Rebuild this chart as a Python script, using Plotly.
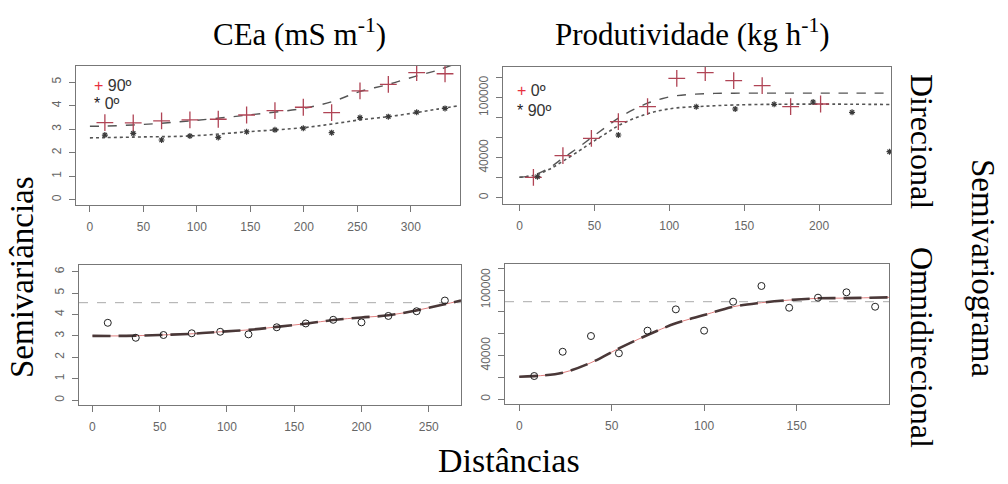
import plotly.graph_objects as go

# ---------------- data ----------------
# Top-left: CEa directional
cea_dist = [14, 40.5, 67, 93.5, 120, 146.5, 173, 199.5, 226, 252.5, 279, 305.5, 332]
cea_90 = [3.28, 3.27, 3.35, 3.39, 3.42, 3.60, 3.79, 3.93, 3.70, 4.62, 4.90, 5.40, 5.35]
cea_0 = [2.75, 2.82, 2.54, 2.71, 2.65, 2.89, 2.97, 3.04, 2.85, 3.49, 3.53, 3.72, 3.88]
cea_fit_x = [0, 14, 50, 93.5, 148, 199, 226.5, 252, 279, 305, 325, 346]
cea_fit_90 = [3.12, 3.13, 3.20, 3.35, 3.60, 3.88, 4.17, 4.59, 4.90, 5.25, 5.50, 5.85]
cea_fit_0 = [2.63, 2.64, 2.67, 2.71, 2.89, 3.06, 3.22, 3.39, 3.53, 3.70, 3.85, 4.00]

# Top-right: Produtividade directional
prod_dist_0 = [9.3, 29, 48, 66, 85.5, 105, 124, 143, 162, 181, 201]
prod_0 = [20400, 42000, 59400, 76000, 91000, 119400, 125000, 117000, 112000, 91000, 93700]
prod_dist_90 = [12, 66, 118, 144, 170, 196, 222, 247]
prod_90 = [21000, 62700, 91000, 88700, 93400, 95700, 85400, 46000]
prod_fit_x = [0, 10, 20, 29, 40, 48, 58, 66, 76, 85.5, 95, 105, 124, 143, 170, 200, 248]
prod_fit_0 = [20400, 23000, 30000, 39500, 51000, 60000, 71000, 79500, 88000, 94500, 99000,
              102000, 104000, 104500, 104600, 104600, 104600]
prod_fit_90 = [20400, 22500, 28500, 36500, 47000, 55000, 64500, 72000, 79000, 84000, 87500,
               89800, 91500, 92700, 93400, 93600, 93200]

# Bottom-left: CEa omnidirectional
cea_om_dist = [11.4, 32.2, 52.8, 73.8, 95, 116, 137, 158.6, 179, 200, 220, 241, 262]
cea_om = [3.61, 2.91, 3.04, 3.12, 3.19, 3.07, 3.40, 3.58, 3.75, 3.63, 3.93, 4.15, 4.65]
cea_om_fit_x = [0, 25, 50, 75, 95, 120, 137, 160, 179, 200, 220, 240, 260, 274]
cea_om_fit = [3.00, 3.00, 3.04, 3.10, 3.19, 3.30, 3.42, 3.58, 3.74, 3.86, 3.96, 4.18, 4.45, 4.65]
cea_om_sill = 4.55

# Bottom-right: Produtividade omnidirectional
prod_om_dist = [8.1, 23.5, 38.8, 53.9, 69.4, 84.7, 100, 115.7, 131, 146, 161.6, 177, 192.5]
prod_om = [21300, 43500, 57900, 42100, 62800, 82300, 62800, 89300, 103700, 83800, 93000, 97900, 84700]
prod_om_fit_x = [0, 8, 23.5, 38.8, 53.9, 69.4, 84.7, 100, 115.7, 131, 146, 161.6, 177, 200]
prod_om_fit = [20700, 21200, 24300, 33500, 46600, 58800, 69500, 77100, 84700, 88400, 90800,
               92400, 92600, 93300]
prod_om_sill = 89300

# tick labels
cea_x_ticks = [0, 50, 100, 150, 200, 250, 300]
cea_y_ticks = [0, 1, 2, 3, 4, 5]
cea_om_x_ticks = [0, 50, 100, 150, 200, 250]
cea_om_y_ticks = [0, 1, 2, 3, 4, 5, 6]
prod_x_ticks = [0, 50, 100, 150, 200]
prod_om_x_ticks = [0, 50, 100, 150]
prod_y_ticks = [0, 40000, 100000]
prod_y_text = ["0", "40000", "100000"]
prod_y_minor_step = 20000

# ---------------- styling ----------------
W, H = 1008, 484
PLUS_C = "#b04455"
DARK = "#3a3a3a"
LINE_C = "#555555"
AX_C = "#777777"
TICK_FONT = dict(family="Liberation Sans, Arial", size=12, color="#666666")
SERIF = "Liberation Serif, Times New Roman, serif"


def px_dom_x(a, b):
    return [a / W, b / W]


def px_dom_y(top, bottom):
    return [1 - bottom / H, 1 - top / H]


fig = go.Figure()


def plus_marker():
    return dict(symbol="cross-thin-open", size=12, color=PLUS_C, line=dict(color=PLUS_C, width=1.3))


def star_marker():
    return dict(symbol="asterisk-open", size=5, color=DARK, line=dict(color=DARK, width=1.2))


def circ_marker():
    return dict(symbol="circle-open", size=7, color="#222222", line=dict(color="#222222", width=1))


# TL
fig.add_trace(go.Scatter(x=cea_fit_x, y=cea_fit_90, mode="lines", line=dict(color=LINE_C, width=1.4, dash="dash", shape="spline"),
                         xaxis="x", yaxis="y", hoverinfo="skip"))
fig.add_trace(go.Scatter(x=cea_fit_x, y=cea_fit_0, mode="lines", line=dict(color=LINE_C, width=1.6, dash="dot", shape="spline"),
                         xaxis="x", yaxis="y", hoverinfo="skip"))
fig.add_trace(go.Scatter(x=cea_dist, y=cea_90, mode="markers", marker=plus_marker(), xaxis="x", yaxis="y"))
fig.add_trace(go.Scatter(x=cea_dist, y=cea_0, mode="markers", marker=star_marker(), xaxis="x", yaxis="y"))

# TR
fig.add_trace(go.Scatter(x=prod_fit_x, y=prod_fit_0, mode="lines", line=dict(color=LINE_C, width=1.4, dash="dash", shape="spline"),
                         xaxis="x2", yaxis="y2", hoverinfo="skip"))
fig.add_trace(go.Scatter(x=prod_fit_x, y=prod_fit_90, mode="lines", line=dict(color=LINE_C, width=1.6, dash="dot", shape="spline"),
                         xaxis="x2", yaxis="y2", hoverinfo="skip"))
fig.add_trace(go.Scatter(x=prod_dist_0, y=prod_0, mode="markers", marker=plus_marker(), xaxis="x2", yaxis="y2"))
fig.add_trace(go.Scatter(x=prod_dist_90, y=prod_90, mode="markers", marker=star_marker(), xaxis="x2", yaxis="y2"))

# BL
fig.add_trace(go.Scatter(x=[-10, 274], y=[cea_om_sill, cea_om_sill], mode="lines",
                         line=dict(color="#aaaaaa", width=1, dash="dash"), xaxis="x3", yaxis="y3", hoverinfo="skip"))
fig.add_trace(go.Scatter(x=cea_om_fit_x, y=cea_om_fit, mode="lines", line=dict(color="#e08080", width=1, shape="spline"),
                         xaxis="x3", yaxis="y3", hoverinfo="skip"))
fig.add_trace(go.Scatter(x=cea_om_fit_x, y=cea_om_fit, mode="lines", line=dict(color="#4a3838", width=2.6, dash="18px,8px", shape="spline"),
                         xaxis="x3", yaxis="y3", hoverinfo="skip"))
fig.add_trace(go.Scatter(x=cea_om_dist, y=cea_om, mode="markers", marker=circ_marker(), xaxis="x3", yaxis="y3"))

# BR
fig.add_trace(go.Scatter(x=[-7.7, 200], y=[prod_om_sill, prod_om_sill], mode="lines",
                         line=dict(color="#aaaaaa", width=1, dash="dash"), xaxis="x4", yaxis="y4", hoverinfo="skip"))
fig.add_trace(go.Scatter(x=prod_om_fit_x, y=prod_om_fit, mode="lines", line=dict(color="#e08080", width=1, shape="spline"),
                         xaxis="x4", yaxis="y4", hoverinfo="skip"))
fig.add_trace(go.Scatter(x=prod_om_fit_x, y=prod_om_fit, mode="lines", line=dict(color="#4a3838", width=2.6, dash="18px,8px", shape="spline"),
                         xaxis="x4", yaxis="y4", hoverinfo="skip"))
fig.add_trace(go.Scatter(x=prod_om_dist, y=prod_om, mode="markers", marker=circ_marker(), xaxis="x4", yaxis="y4"))


def xax(domain, rng, ticks, anchor):
    return dict(domain=domain, range=rng, tickvals=ticks, ticktext=[str(t) for t in ticks],
                showline=True, linecolor=AX_C, linewidth=1.2, mirror=True, ticks="outside", ticklen=6,
                tickcolor=AX_C, tickfont=TICK_FONT, showgrid=False, zeroline=False, anchor=anchor,
                ticklabelstandoff=4)


def yax(domain, rng, ticks, text, anchor, minor_step=None):
    d = dict(domain=domain, range=rng, tickvals=ticks, ticktext=text,
             showline=True, linecolor=AX_C, linewidth=1.2, mirror=True, ticks="outside", ticklen=6,
             tickcolor=AX_C, tickfont=TICK_FONT, showgrid=False, zeroline=False, anchor=anchor,
             tickangle=-90, ticklabelstandoff=3)
    if minor_step:
        d["minor"] = dict(tick0=0, dtick=minor_step, ticks="outside", ticklen=6, tickcolor=AX_C,
                          tickwidth=1, showgrid=False)
    return d


layout = dict(
    width=W, height=H, margin=dict(l=0, r=0, t=0, b=0), showlegend=False,
    paper_bgcolor="white", plot_bgcolor="white",
    xaxis=xax(px_dom_x(76, 460), [-13, 346], cea_x_ticks, "y"),
    yaxis=yax(px_dom_y(66, 205), [-0.22, 5.68], cea_y_ticks, [str(t) for t in cea_y_ticks], "x"),
    xaxis2=xax(px_dom_x(503, 891), [-11, 248], prod_x_ticks, "y2"),
    yaxis2=yax(px_dom_y(67, 204), [-6300, 130700], prod_y_ticks, prod_y_text, "x2", prod_y_minor_step),
    xaxis3=xax(px_dom_x(79, 461), [-10, 274], cea_om_x_ticks, "y3"),
    yaxis3=yax(px_dom_y(265, 405), [-0.23, 6.31], cea_om_y_ticks, [str(t) for t in cea_om_y_ticks], "x3"),
    xaxis4=xax(px_dom_x(505, 889), [-7.7, 200], prod_om_x_ticks, "y4"),
    yaxis4=yax(px_dom_y(264, 404), [-4300, 123800], prod_y_ticks, prod_y_text, "x4", prod_y_minor_step),
)
fig.update_layout(**layout)


def ann(text, xpx, ypx, size, angle=0, family=SERIF, xanchor="center", color="black"):
    fig.add_annotation(text=text, x=xpx / W, y=1 - ypx / H, xref="paper", yref="paper",
                       showarrow=False, textangle=angle, xanchor=xanchor, yanchor="middle",
                       font=dict(family=family, size=size, color=color))


ann("CEa (mS m<sup>-1</sup>)", 299, 32, 31)
ann("Produtividade (kg h<sup>-1</sup>)", 692, 32, 31)
ann("Semivariâncias", 22, 277, 33, angle=-90)
ann("Distâncias", 509, 460, 34)
ann("Direcional", 922, 141, 32, angle=90)
ann("Omnidirecional", 922, 347, 32, angle=90)
ann("Semivariograma", 983, 268, 33, angle=90)

SANS = "Liberation Sans, Arial"
ann('<span style="color:#e8303f">+</span> 90º', 92, 86, 16, family=SANS, xanchor="left", color="#333333")
ann('<span style="color:#222">*</span> 0º', 92, 104, 16, family=SANS, xanchor="left", color="#333333")
ann('<span style="color:#e8303f">+</span> 0º', 515, 91, 16, family=SANS, xanchor="left", color="#333333")
ann('<span style="color:#222">*</span> 90º', 515, 110, 16, family=SANS, xanchor="left", color="#333333")

fig.write_html("out.html")
